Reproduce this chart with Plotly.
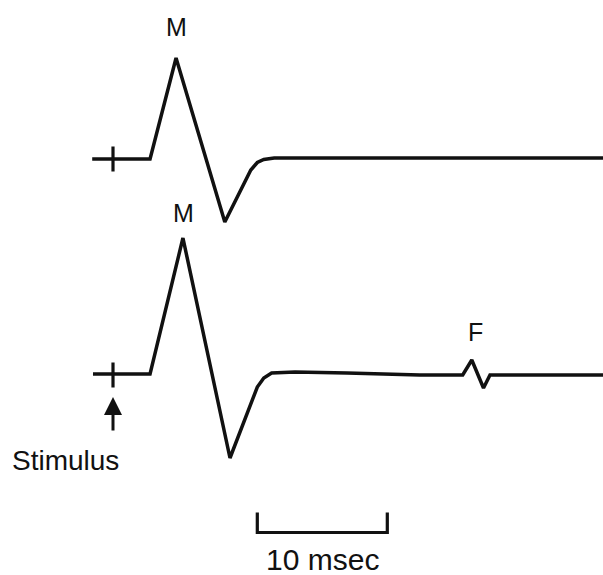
import plotly.graph_objects as go

# ---- data (time in msec, amplitude in arbitrary mV units) ----
top_t = [-1.6, 2.85, 4.85, 8.6, 10.6, 11.1, 11.6, 12.4, 37.7]
top_v = [0.0, 0.0, 2.02, -1.26, -0.22, -0.07, -0.01, 0.02, 0.02]

bot_t = [-1.54, 2.85, 5.38, 9.0, 11.1, 11.6, 12.2, 14.0, 18.0, 23.6, 26.9, 27.6, 28.5, 29.0, 37.7]
bot_v = [0.02, 0.02, 2.74, -1.66, -0.24, -0.06, 0.04, 0.06, 0.04, 0.0, 0.0, 0.3, -0.26, 0.0, 0.0]

top_offset = 4.32      # vertical offset of upper trace
stim_time = 0.0        # stimulus at t = 0
stim_tick = 0.25       # half height of stimulus tick
scale_start = 11.1     # msec
scale_len = 10         # msec
scale_level = -3.15
scale_tick = 0.4

labels_text = ["M", "M", "F"]
labels_t = [4.9, 5.45, 27.9]
labels_v = [6.96, 3.24, 0.86]

LINE = "#111111"
FONT = "Liberation Sans, Arial, Helvetica, sans-serif"

fig = go.Figure()

fig.add_trace(go.Scatter(x=top_t, y=[v + top_offset for v in top_v], mode="lines",
                         line=dict(color=LINE, width=3.5), hoverinfo="skip"))
fig.add_trace(go.Scatter(x=bot_t, y=bot_v, mode="lines",
                         line=dict(color=LINE, width=3.5), hoverinfo="skip"))

# stimulus ticks
for off in (top_offset, 0.0):
    fig.add_trace(go.Scatter(x=[stim_time, stim_time], y=[off - stim_tick, off + stim_tick],
                             mode="lines", line=dict(color=LINE, width=3.2), hoverinfo="skip"))

# scale bar
fig.add_trace(go.Scatter(
    x=[scale_start, scale_start, scale_start + scale_len, scale_start + scale_len],
    y=[scale_level + scale_tick, scale_level, scale_level, scale_level + scale_tick],
    mode="lines", line=dict(color=LINE, width=3.2), hoverinfo="skip"))

# labels
for txt, tx, ty in zip(labels_text, labels_t, labels_v):
    fig.add_annotation(x=tx, y=ty, text=txt, showarrow=False,
                       font=dict(family=FONT, size=25, color=LINE))

# stimulus arrow
fig.add_annotation(x=stim_time, y=-0.44, ax=stim_time, ay=-1.14, axref="x", ayref="y",
                   text="", showarrow=True, arrowhead=2, arrowsize=1.2, arrowwidth=3,
                   arrowcolor=LINE, standoff=0)
fig.add_annotation(x=-3.65, y=-1.7, text="Stimulus", showarrow=False,
                   font=dict(family=FONT, size=28, color=LINE))
fig.add_annotation(x=scale_start + scale_len / 2, y=-0.005, yref="paper", text="10 msec",
                   showarrow=False, yanchor="bottom",
                   font=dict(family=FONT, size=30, color=LINE))

fig.update_layout(
    width=603, height=575, margin=dict(l=0, r=0, t=0, b=0),
    paper_bgcolor="white", plot_bgcolor="white", showlegend=False,
    xaxis=dict(range=[-113 / 13, 490 / 13], visible=False, fixedrange=True),
    yaxis=dict(range=[-4.0, 7.5], visible=False, fixedrange=True),
)

fig.write_html("out.html")
